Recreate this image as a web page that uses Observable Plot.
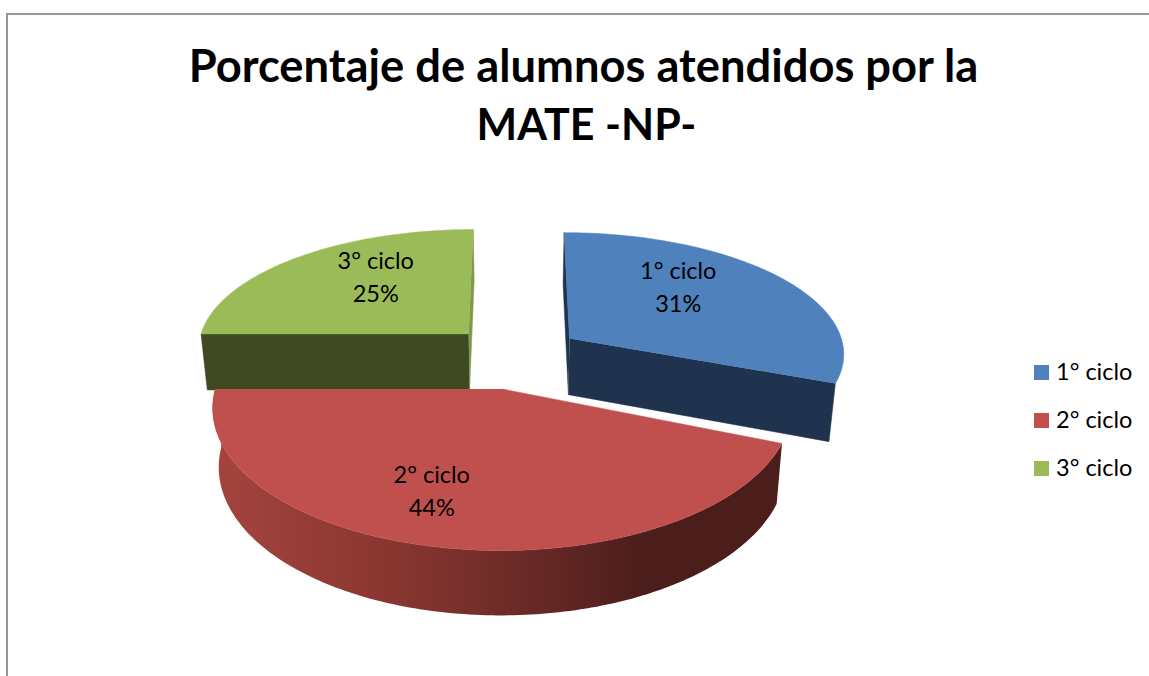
<!DOCTYPE html>
<html><head><meta charset="utf-8">
<script src="https://cdn.jsdelivr.net/npm/d3@7"></script>
<script src="https://cdn.jsdelivr.net/npm/@observablehq/plot@0.6"></script>
<style>
html,body{margin:0;padding:0;background:#fff;overflow:hidden}
body{width:1149px;height:676px;position:relative;font-family:Lato,"Open Sans",sans-serif;color:#000}
#frame{position:absolute;left:6px;top:13px;width:1160px;height:680px;border:2px solid #969696;box-sizing:border-box}
#title{position:absolute;left:0;width:1167px;top:36px;text-align:center;font-weight:700;font-size:45.3px;line-height:58px;color:#000;white-space:nowrap}
#title span{font-size:43px;position:relative;left:3px}
#chart{position:absolute;left:0;top:0}
#legend{position:absolute;left:1034px;top:348px}
.item{position:relative;height:48px;width:110px}
.sw{position:absolute;left:0;top:17px;width:15px;height:15px}
.lb{position:absolute;left:22px;top:8px;font-size:23.5px;line-height:30px;white-space:nowrap}
</style></head><body>
<div id="frame"></div>
<div id="title">Porcentaje de alumnos atendidos por la<br><span>MATE -NP-</span></div>
<div id="chart"></div>
<div id="legend"></div>
<script>
const categories = ["1° ciclo", "2° ciclo", "3° ciclo"];
const percents = [31, 44, 25];
const topColors = ["#4f81bd", "#c0504d", "#9bbb59"];
const wallColors = ["#1f324e", "#4b1d1b", "#3f4a22"];
const cutColors = ["#1f324e", "#4b1d1b", "#7c9a48"];

// explosion of each slice on the pie plane, its radii, and label nudges
const shiftU = [0.195, -0.045, -0.17];
const shiftV = [0.194, -0.19, 0.23];
const radiusU = [0.982, 0.99, 0.971];
const radiusV = [0.935, 1.02, 0.93];
const labelDx = [-9, -38, 5];
const labelDy = [-18, 18, -16];

// perspective view of the pie plane
const xc = 515, yVP = -717, C = 0.2624, A0 = 0.000926, A1 = 0.000113, shrink = 0.98;
const ry = v => yVP + 1 / (A0 + A1 * v);
const wallH = y => 56 + (y - 333) * 0.041;
function proj(u, v, low) {
  const yt = ry(v);
  const w = C * (yt - yVP) * (low ? shrink : 1);
  return {x: xc + u * w, y: yt + (low ? wallH(yt) : 0)};
}
const rad = d => d * Math.PI / 180;
const total = d3.sum(percents);
let acc = 0;
const slices = categories.map((name, i) => {
  const a0 = acc / total * 360; acc += percents[i];
  const a1 = acc / total * 360;
  return {i, name, pct: percents[i], a0, a1, du: shiftU[i], dv: shiftV[i], ru: radiusU[i], rv: radiusV[i]};
});
const at = (s, a, r, low) => proj(s.du + r * s.ru * Math.sin(rad(a)), s.dv + r * s.rv * Math.cos(rad(a)), low);
const rim = (s, a, low) => at(s, a, 1, low);
const hub = (s, low) => proj(s.du, s.dv, low);

function tag(points, id, col) { return points.map(p => ({...p, id, col})); }
function arc(s, low) {
  const pts = [];
  for (let a = s.a0; a < s.a1; a += 1) pts.push(rim(s, a, low));
  pts.push(rim(s, s.a1, low));
  return pts;
}
const topFace = s => tag([hub(s, false), ...arc(s, false)], "top" + s.i, topColors[s.i]);
const cutFace = (s, a, id, col) => tag([hub(s, false), rim(s, a, false), rim(s, a, true), hub(s, true)], id, col);

const [sBlue, sRed, sGreen] = slices;
const back = [
  ...cutFace(sGreen, sGreen.a1, "gc", cutColors[2]),
  ...cutFace(sGreen, sGreen.a0, "gf", wallColors[2]),
  ...cutFace(sBlue, sBlue.a0, "bc", cutColors[0]),
  ...cutFace(sBlue, sBlue.a1, "bf", wallColors[0])
];
const redWall = [...arc(sRed, false), ...arc(sRed, true).reverse()];
const tops = [...topFace(sGreen), ...topFace(sBlue), ...topFace(sRed)];

const labels = slices.map(s => {
  const p = at(s, (s.a0 + s.a1) / 2, 0.55, false);
  return {...p, text: s.name + "\n" + s.pct + "%", dx: labelDx[s.i], dy: labelDy[s.i]};
});

const poly = data => Plot.line(data, {x: "x", y: "y", z: "id", fill: "col", stroke: "col", strokeWidth: 0.5});

function wallGradient() {
  const ns = "http://www.w3.org/2000/svg";
  const defs = document.createElementNS(ns, "defs");
  const g = document.createElementNS(ns, "linearGradient");
  g.setAttribute("id", "redWall");
  [[0, "#a5443f"], [0.33, "#87352f"], [0.55, "#6a2a27"], [0.76, "#4b1d1b"], [1, "#4b1d1b"]].forEach(([o, c]) => {
    const st = document.createElementNS(ns, "stop");
    st.setAttribute("offset", o); st.setAttribute("stop-color", c);
    g.append(st);
  });
  defs.append(g);
  return defs;
}

const chart = Plot.plot({
  width: 1149, height: 676, margin: 0,
  style: {background: "transparent"},
  x: {domain: [0, 1149], range: [0, 1149], axis: null},
  y: {domain: [0, 676], range: [0, 676], axis: null},
  color: {type: "identity"},
  marks: [
    wallGradient,
    poly(back),
    Plot.line(redWall, {x: "x", y: "y", fill: "url(#redWall)", stroke: "none"}),
    poly(tops),
    ...labels.map(l => Plot.text([l], {
      x: "x", y: "y", text: "text", dx: l.dx, dy: l.dy,
      fontFamily: "Lato", fontSize: 23.5, lineHeight: 1.4, fill: "#000"
    }))
  ]
});
document.getElementById("chart").append(chart);

const legend = document.getElementById("legend");
categories.forEach((name, i) => {
  const it = document.createElement("div"); it.className = "item";
  const sw = document.createElement("div"); sw.className = "sw"; sw.style.background = topColors[i];
  const lb = document.createElement("div"); lb.className = "lb"; lb.textContent = name;
  it.append(sw, lb); legend.append(it);
});
</script>
</body></html>
